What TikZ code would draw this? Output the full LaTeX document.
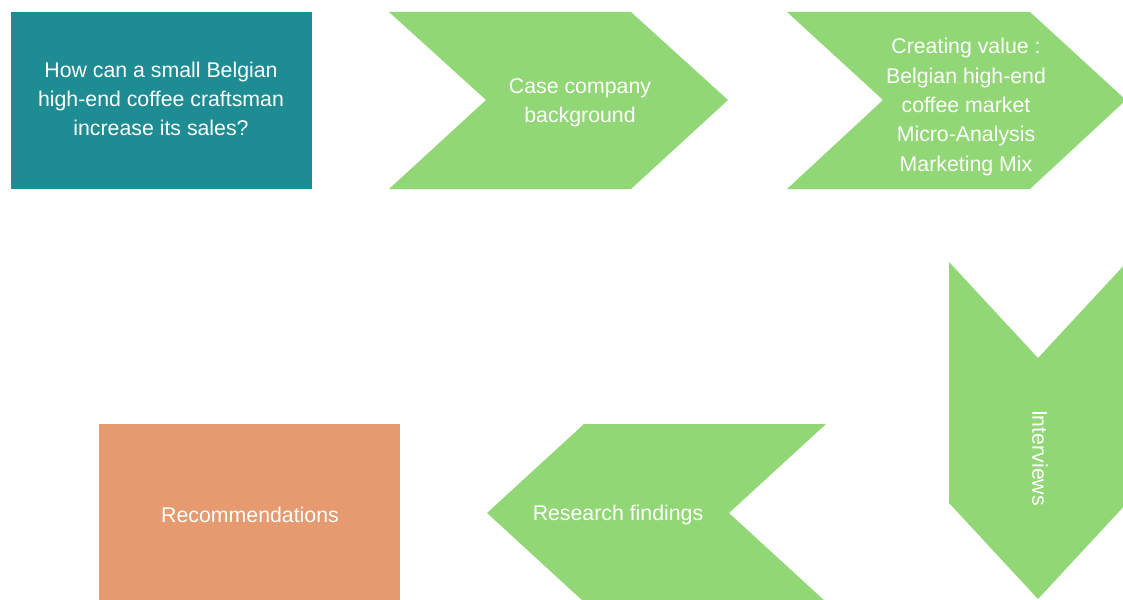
\documentclass[tikz,border=0pt]{standalone}
\usepackage{fontspec}
\setmainfont{Liberation Sans}
\usepackage{tikz}
\definecolor{tealbox}{HTML}{1E8C93}
\definecolor{greenstep}{HTML}{92D775}
\definecolor{orangebox}{HTML}{E59A6F}
\tikzset{steptext/.style={text=white, align=center, inner sep=0pt, font=\fontsize{21.3}{29.3}\selectfont}}

\begin{document}
\begin{tikzpicture}[x=1pt, y=-1pt]
\useasboundingbox (0,0) rectangle (1123,599);
\clip (0,0) rectangle (1123,599);
\fill[tealbox] (11,12) rectangle (312,189);
\fill[greenstep] (389,12) -- (631,12) -- (728,100) -- (631,189) -- (389,189) -- (486,100) -- cycle;
\fill[greenstep] (787,12) -- (1030,12) -- (1126,100) -- (1030,189) -- (787,189) -- (883,100) -- cycle;
\fill[greenstep] (949,262) -- (1038,358) -- (1127,262) -- (1127,503) -- (1038,599) -- (949,503) -- cycle;
\fill[greenstep] (584,424) -- (826,424) -- (729,513) -- (826,602) -- (584,602) -- (487,513) -- cycle;
\fill[orangebox] (99,424) rectangle (400,602);
\node[steptext] (question) at (161,99) {How can a small Belgian\\high-end coffee craftsman\\increase its sales?};
\node[steptext] (background) at (580,103) {Case company\\background};
\node[steptext] (value) at (966,107) {Creating value :\\Belgian high-end\\coffee market\\Micro-Analysis\\Marketing Mix};
\node[steptext, rotate=-90] (interviews) at (1040,458) {Interviews};
\node[steptext] (findings) at (618,515) {Research findings};
\node[steptext] (recommend) at (250,515) {Recommendations};
\end{tikzpicture}
\end{document}
